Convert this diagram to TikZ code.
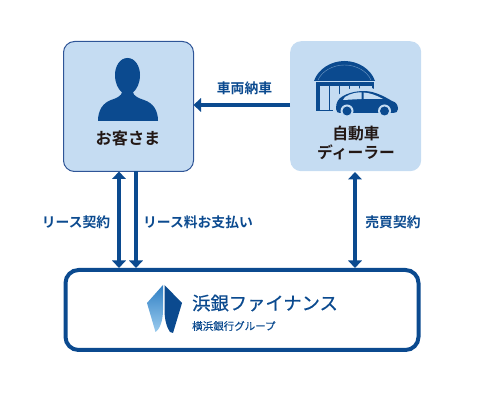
\documentclass[tikz,border=0pt]{standalone}
\usepackage{fontspec}
\setmainfont{Noto Sans CJK JP}[BoldFont={Noto Sans CJK JP Bold}]
\newfontfamily\brandfont{Noto Sans CJK JP}[FakeBold=0.6]
\newfontfamily\groupfont{Noto Sans CJK JP}[FakeBold=0.2]
\usetikzlibrary{arrows.meta,calc}
\definecolor{navy}{HTML}{0B4A8F}
\definecolor{pale}{HTML}{C5DCF2}
\definecolor{ink}{HTML}{231815}
\definecolor{edgeb}{HTML}{2F5597}
\definecolor{lblue}{HTML}{2F7FC4}
\definecolor{llight}{HTML}{9ACBEE}
\tikzset{
  card/.style={rounded corners=11pt,fill=pale,minimum width=130pt,minimum height=130pt,anchor=north west,inner sep=0},
  link/.style={navy,line width=4.8pt,-{Triangle[length=7.5pt,width=13.5pt]}},
  dlink/.style={navy,line width=4.8pt,{Triangle[length=7.5pt,width=13.5pt]}-{Triangle[length=7.5pt,width=13.5pt]}},
  lbl/.style={font=\bfseries\fontsize{13.8}{15}\selectfont,text=navy,inner sep=0},
  captext/.style={font=\bfseries\fontsize{15.8}{19.5}\selectfont,text=ink,inner sep=0,align=center},
}
\begin{document}
\begin{tikzpicture}[x=1pt,y=-1pt]
\useasboundingbox (0,0) rectangle (480,403);
\node[card,draw=edgeb,line width=1pt] (cust) at (63,41) {};
\node[card,minimum width=131pt] (deal) at (290,41) {};
\node[draw=navy,line width=4pt,rounded corners=13pt,fill=white,minimum width=353pt,minimum height=80pt,anchor=north west,inner sep=0] (fin) at (63.5,268) {};
\node[captext,font=\bfseries\fontsize{16.2}{19.5}\selectfont] (custt) at (128,138) {お客さま};
\node[captext] (dealt) at (356,143) {自動車\\ディーラー};
% person
\fill[navy] (127.5,58) .. controls (120,58) and (115,66) .. (115,75)
  .. controls (115,83) and (118,89) .. (122,92.5) .. controls (121,96) and (117,98) .. (111,100)
  .. controls (103,103) and (98,110) .. (98,121) -- (158,121)
  .. controls (158,110) and (153,103) .. (144,100) .. controls (138,98) and (134,96) .. (133,92.5)
  .. controls (137,89) and (140,83) .. (140,75) .. controls (140,66) and (135,58) .. (127.5,58) -- cycle;
% garage
\fill[navy] (314,81) .. controls (318,69) and (331,61) .. (344.5,61) .. controls (358,61) and (371,69) .. (375,81) -- cycle;
\draw[pale!55!navy,line width=0.4pt] (318,80) .. controls (322,71) and (333,65) .. (344.5,65) .. controls (356,65) and (367,71) .. (371,80);
\fill[navy] (316,82) rectangle (374,111);
\fill[pale] (320,86) rectangle (328.5,110);
\fill[pale] (330,86) rectangle (338.5,110);
\fill[pale] (340,86) rectangle (348.5,110);
\fill[pale] (350,86) rectangle (358.5,110);
\fill[pale] (360,86) rectangle (372,110);
% car
\fill[pale] (333,116) -- (333,100) -- (345,89) -- (372,88) -- (400,103) -- (400,120) -- cycle;
\fill[navy] (336,109) .. controls (336,102) and (338,99) .. (343,96)
  .. controls (352,91) and (364,90) .. (372,92) .. controls (380,94) and (387,98) .. (392,101)
  .. controls (396,102) and (398,105) .. (398,109) .. controls (398,112) and (396,113) .. (393,113)
  -- (340,113) .. controls (338,113) and (336,112) .. (336,109) -- cycle;
\fill[pale] (345,97) .. controls (351,93) and (358,92) .. (361.5,92.5) -- (361.5,99) -- (343,100) -- cycle;
\fill[pale] (363.5,92.5) .. controls (370,93) and (376,95) .. (383,99) -- (363.5,99) -- cycle;
\foreach \cx in {347,384.5}{
  \fill[pale] (\cx,111) circle (6.5);
  \fill[navy] (\cx,111) circle (4.5);
}
% arrows
\coordinate (a1) at (119,171.5); \coordinate (b1) at (119,268);
\coordinate (a2) at (136,171.5); \coordinate (b2) at (136,268);
\coordinate (a3) at (355,172); \coordinate (b3) at (355,268);
\coordinate (a4) at (290,105); \coordinate (b4) at (193.5,105);
\draw[dlink] (a1) -- (b1);
\draw[link] (a2) -- (b2);
\draw[dlink] (a3) -- (b3);
\draw[link] (a4) -- (b4);
\node[lbl] (t1) at (244.5,88) {車両納車};
\node[lbl] (t2) at (76,222) {リース契約};
\node[lbl] (t3) at (198,222) {リース料お支払い};
\node[lbl] (t4) at (393,222) {売買契約};
% logo
\shade[top color=lblue,bottom color=llight] (163,285) -- (147,303) -- (155.5,332) .. controls (159,330) and (163,322) .. (163,310) -- cycle;
\fill[navy] (164.5,285) -- (182,303) -- (173,333) -- (170,332) .. controls (167,328) and (164.5,320) .. (164.5,310) -- cycle;
\node[font=\brandfont\fontsize{18.3}{20}\selectfont,text=navy,inner sep=0,anchor=west] (brand) at (192,303) {浜銀ファイナンス};
\node[font=\groupfont\fontsize{10.5}{12}\selectfont,text=navy,inner sep=0,anchor=west] (group) at (192,326) {横浜銀行グループ};
\end{tikzpicture}
\end{document}
